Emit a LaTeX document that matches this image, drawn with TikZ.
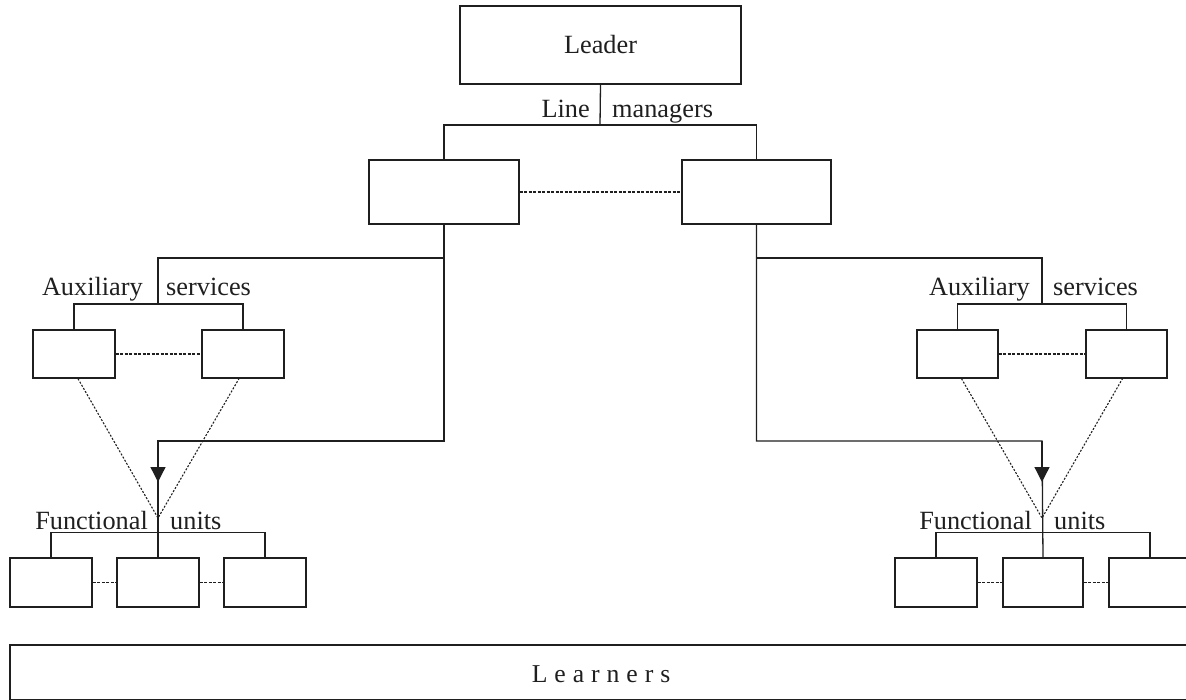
\documentclass[tikz,border=0pt]{standalone}
\usepackage{fontspec}
\setmainfont{Liberation Serif}
\newfontfamily\trackedfont[LetterSpace=27]{Liberation Serif}
\usetikzlibrary{arrows.meta,calc}

\begin{document}
\begin{tikzpicture}[x=1pt,y=-1pt,
  unitbox/.style={draw=black!88, line width=1.3pt, inner sep=0pt, fill=white},
  wire/.style={draw=black!88, line width=1.3pt},
  dashlink/.style={draw=black!88, line width=1.2pt, dash pattern=on 3pt off 1.5pt},
  dotlink/.style={draw=black!88, line width=1.1pt, dash pattern=on 2pt off 1.6pt},
  lbl/.style={inner sep=0pt, text=black!88, font=\fontsize{26.3}{30}\selectfont},
  tip/.style={-{Triangle[width=15pt,length=15pt]}}
]
\useasboundingbox (0,0) rectangle (1186,700);

% --- top of the hierarchy ---
\node[unitbox, minimum width=281, minimum height=78] (leader) at (600.5,45) {};
\node[lbl] (leadertxt) at (leader.center) {Leader};

\node[unitbox, minimum width=150, minimum height=64] (m1) at (444,192) {};
\node[unitbox, minimum width=149, minimum height=64] (m2) at (756.5,192) {};

\coordinate (lmbar) at (600,125);
\draw[wire] (leader.south) -- (lmbar);
\draw[wire] (m1.north) |- (lmbar) -| (m2.north);
\node[lbl, anchor=base east] (linetxt) at (590,118) {Line};
\node[lbl, anchor=base west] (mgrtxt) at (612,118) {managers};
\draw[dashlink] (m1.east) -- (m2.west);

% --- left branch ---
\node[unitbox, minimum width=82, minimum height=48] (a1) at (74,354) {};
\node[unitbox, minimum width=82, minimum height=48] (a2) at (243,354) {};
\coordinate (auxL) at (158,258);
\coordinate (auxbarL) at (158,304);
\draw[wire] (m1.south) |- (auxL) -- (auxbarL);
\draw[wire] (a1.north) |- (auxbarL) -| (a2.north);
\node[lbl, anchor=base east] (auxtxtL) at (143,296) {Auxiliary};
\node[lbl, anchor=base west] (svctxtL) at (166,296) {services};
\draw[dashlink] (a1.east) -- (a2.west);

\node[unitbox, minimum width=82, minimum height=49] (f1) at (51,582.5) {};
\node[unitbox, minimum width=82, minimum height=49] (f2) at (158,582.5) {};
\node[unitbox, minimum width=82, minimum height=49] (f3) at (265,582.5) {};
\coordinate (turnL) at (158,441);
\coordinate (tipL) at (158,482);
\coordinate (meetL) at (158,518);
\draw[wire] (m1.south) |- (turnL) -- (f2.north);
\draw[wire, tip] (turnL) -- (tipL);
\draw[wire] (f1.north) -- ++(0,-25) -| (f3.north);
\node[lbl, anchor=base east] (funtxtL) at (148,529) {Functional};
\node[lbl, anchor=base west] (unittxtL) at (170,529) {units};
\draw[dashlink] (f1.east) -- (f2.west);
\draw[dashlink] (f2.east) -- (f3.west);
\draw[dotlink] ([xshift=4pt]a1.south) -- (meetL) -- ([xshift=-4pt]a2.south);

% --- right branch ---
\node[unitbox, minimum width=81, minimum height=48] (a3) at (957.5,354) {};
\node[unitbox, minimum width=81, minimum height=48] (a4) at (1126.5,354) {};
\coordinate (auxR) at (1042,258);
\coordinate (auxbarR) at (1042,304);
\draw[wire] (m2.south) |- (auxR) -- (auxbarR);
\draw[wire] (a3.north) |- (auxbarR) -| (a4.north);
\node[lbl, anchor=base east] (auxtxtR) at (1030,296) {Auxiliary};
\node[lbl, anchor=base west] (svctxtR) at (1053,296) {services};
\draw[dashlink] (a3.east) -- (a4.west);

\node[unitbox, minimum width=82, minimum height=49] (f4) at (936,582.5) {};
\node[unitbox, minimum width=80, minimum height=49] (f5) at (1043,582.5) {};
\node[unitbox, minimum width=82, minimum height=49] (f6) at (1150,582.5) {};
\coordinate (turnR) at (1042,441);
\coordinate (tipR) at (1042,482);
\coordinate (meetR) at (1042,518);
\draw[wire] (m2.south) |- (turnR) -- (f5.north);
\draw[wire, tip] (turnR) -- (tipR);
\draw[wire] (f4.north) -- ++(0,-25) -| (f6.north);
\node[lbl, anchor=base east] (funtxtR) at (1032,529) {Functional};
\node[lbl, anchor=base west] (unittxtR) at (1054,529) {units};
\draw[dashlink] (f4.east) -- (f5.west);
\draw[dashlink] (f5.east) -- (f6.west);
\draw[dotlink] ([xshift=4pt]a3.south) -- (meetR) -- ([xshift=-4pt]a4.south);

% --- learners band ---
\node[unitbox, line width=1.8pt, minimum width=1190, minimum height=55, anchor=north west] (learners) at (9,644) {};
\node[inner sep=0pt, text=black!88, font=\trackedfont\fontsize{25.7}{30}\selectfont, anchor=base] (learntxt) at (601,682) {Learners};
\end{tikzpicture}
\end{document}
